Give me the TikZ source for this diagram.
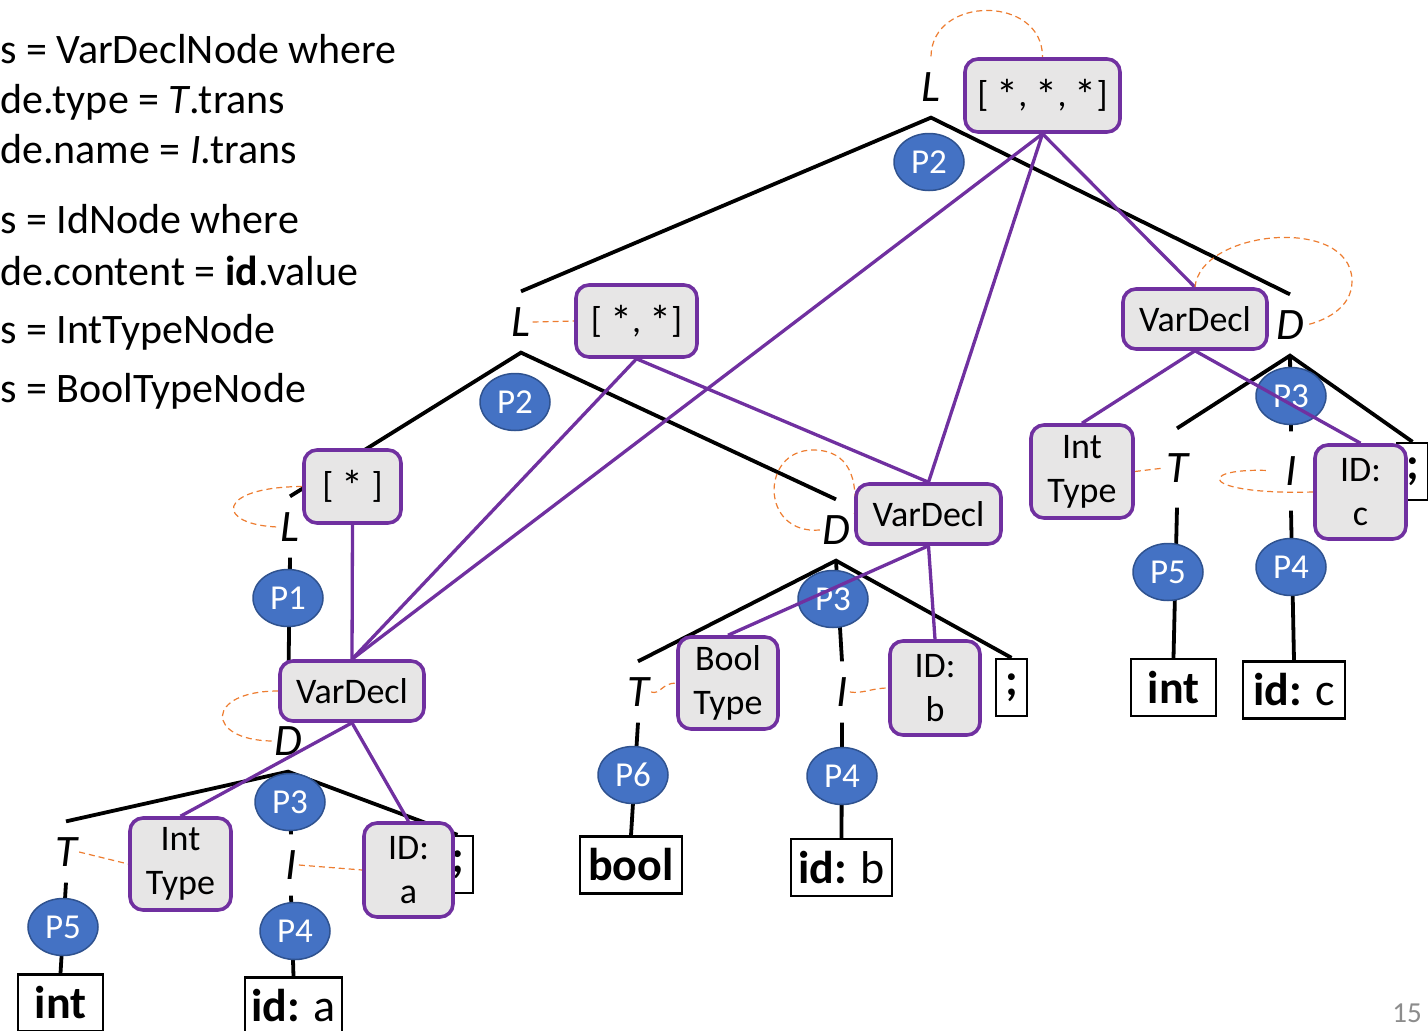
\documentclass[tikz,border=0pt]{standalone}
\usepackage{fontspec}
\setmainfont{Carlito}
\usetikzlibrary{shapes.geometric}
\definecolor{astpurple}{HTML}{7030A0}
\definecolor{astfill}{HTML}{E7E6E6}
\definecolor{prodblue}{HTML}{4472C4}
\definecolor{prodedge}{HTML}{2F528F}
\definecolor{linkorange}{HTML}{ED7D31}
\definecolor{pagegray}{HTML}{8C8C8C}
\pgfdeclarelayer{treelayer}
\pgfdeclarelayer{astlayer}
\pgfdeclarelayer{boxlayer}
\pgfsetlayers{treelayer,main,astlayer,boxlayer}
% a slightly larger list-element star
\newcommand\elemstar{\lower4pt\hbox{\fontsize{44pt}{44pt}\selectfont *}}

\begin{document}
\begin{tikzpicture}[x=1pt,y=-1pt,
  ast/.style={draw=astpurple, fill=astfill, line width=3.6pt, rounded corners=13pt,
    inner sep=0pt, align=center, font=\fontsize{36pt}{44pt}\selectfont},
  prod/.style={ellipse, draw=prodedge, fill=prodblue, line width=1.5pt, text=white,
    minimum width=70pt, minimum height=57pt, inner sep=0pt,
    font=\fontsize{35pt}{40pt}\selectfont},
  nt/.style={inner xsep=2pt, inner ysep=16pt, font=\fontsize{45pt}{50pt}\selectfont\itshape},
  term/.style={draw, line width=2.4pt, inner sep=0pt, minimum height=57pt,
    font=\fontsize{46pt}{52pt}\selectfont\bfseries},
  treeedge/.style={line width=3.8pt},
  astedge/.style={draw=astpurple, line width=3.3pt},
  link/.style={draw=linkorange, line width=1.2pt, dash pattern=on 6pt off 4pt},
  note/.style={anchor=base west, inner sep=0pt, font=\fontsize{42pt}{50pt}\selectfont},
]
\useasboundingbox (0,0) rectangle (1428,1031);

% semantic rules (partly cut at the left edge)
\node[note] (n1) at (0,63)  {s = VarDeclNode where};
\node[note] (n2) at (0,113) {de.type = \textit{T}.trans};
\node[note] (n3) at (0,163) {de.name = \textit{I}.trans};
\node[note] (n4) at (0,233) {s = IdNode where};
\node[note] (n5) at (0,285) {de.content = \textbf{id}.value};
\node[note] (n6) at (0,343) {s = IntTypeNode};
\node[note] (n7) at (0,402) {s = BoolTypeNode};
\node[anchor=base east, inner sep=0pt, text=pagegray,
      font=\fontsize{29pt}{34pt}\selectfont] (pg) at (1422,1022) {15};

% parse tree nonterminals
\node[nt] (L1) at (931,87)  {L};
\node[nt] (L2) at (521,322) {L};
\node[nt] (L3) at (290,527) {L};
\node[nt] (D1) at (288,741) {D};
\node[nt] (D2) at (836,530) {D};
\node[nt] (D3) at (1290,325) {D};
\node[nt] (T1) at (66,852)  {T};
\node[nt] (I1) at (291,865) {I};
\node[nt] (T2) at (638,692) {T};
\node[nt] (I2) at (842,692) {I};
\node[nt, inner ysep=25pt] (T3) at (1177,468) {T};
\node[nt, inner ysep=25pt] (I3) at (1291,471) {I};

% productions used
\node[prod] (p2a) at (929,162) {P2};
\node[prod] (p2b) at (515,402) {P2};
\node[prod] (p1)  at (288,598) {P1};
\node[prod] (p3a) at (290,802) {P3};
\node[prod] (p5a) at (63,927)  {P5};
\node[prod] (p4a) at (295,931) {P4};
\node[prod] (p3b) at (833,599) {P3};
\node[prod] (p6)  at (633,775) {P6};
\node[prod] (p4b) at (842,776) {P4};
\node[prod] (p3c) at (1291,396) {P3};
\node[prod] (p5b) at (1168,572) {P5};
\node[prod] (p4c) at (1291,567) {P4};

% tokens
\node[term, minimum width=85pt]  (int1) at (60.5,1003)   {int};
\node[term, minimum width=97pt]  (ida)  at (293.5,1006)  {id: \textmd{a}};
\node[term, minimum width=31pt]  (sc1)  at (457.5,864.5) {;};
\node[term, minimum width=102pt] (bool) at (631,865)     {bool};
\node[term, minimum width=101pt] (idb)  at (841.5,867.5) {id: \textmd{b}};
\node[term, minimum width=31pt]  (sc2)  at (1011.5,687.5) {;};
\node[term, minimum width=85pt]  (int2) at (1173.5,687.5) {int};
\node[term, minimum width=102pt] (idc)  at (1294,690)    {id: \textmd{c}};
\node[term, minimum width=31pt]  (sc3)  at (1412.5,471.5) {;};

% AST nodes
\begin{pgfonlayer}{boxlayer}
\node[ast, minimum width=155pt, minimum height=73pt] (a1) at (1042.5,95.5) {[ \elemstar, \elemstar, \elemstar]};
\node[ast, minimum width=121pt, minimum height=72pt] (a2) at (636.5,321)   {[ \elemstar, \elemstar]};
\node[ast, minimum width=97pt,  minimum height=73pt] (a3) at (352.5,486.5) {[ \elemstar\ ]};
\node[ast, minimum width=144pt, minimum height=60pt] (v1) at (352,691)   {VarDecl};
\node[ast, minimum width=145pt, minimum height=60pt] (v2) at (928.5,514) {VarDecl};
\node[ast, minimum width=144pt, minimum height=60pt] (v3) at (1195,319)  {VarDecl};
\node[ast, minimum width=101pt, minimum height=92pt] (it1)  at (180.5,864)  {Int\\Type};
\node[ast, minimum width=89pt,  minimum height=94pt] (ida2) at (408.5,870)  {ID:\\a};
\node[ast, minimum width=100pt, minimum height=92pt] (bt)   at (728,683)    {Bool\\Type};
\node[ast, minimum width=90pt,  minimum height=94pt] (idb2) at (935,688)    {ID:\\b};
\node[ast, minimum width=102pt, minimum height=93pt] (it2)  at (1082,471.5) {Int\\Type};
\node[ast, minimum width=91pt,  minimum height=94pt] (idc2) at (1360.5,492) {ID:\\c};
\end{pgfonlayer}

% parse tree edges
\begin{pgfonlayer}{treelayer}
\draw[treeedge] (L2.north) -- (L1.south) -- (D3.north);
\draw[treeedge] (L3.north) -- (L2.south) -- (D2.north);
\draw[treeedge] (L3.south) -- (D1.north);
\draw[treeedge] (T1.north) -- (D1.south) -- (sc1.north);
\draw[treeedge] (D1.south) -- (I1.north);
\draw[treeedge] (T1.south) -- (int1.north);
\draw[treeedge] (I1.south) -- (ida.north);
\draw[treeedge] (T2.north) -- (D2.south) -- (sc2.north);
\draw[treeedge] (D2.south) -- (I2.north);
\draw[treeedge] (T2.south) -- (bool.north);
\draw[treeedge] (I2.south) -- (idb.north);
\draw[treeedge] (T3.north) -- (D3.south) -- (sc3.north);
\draw[treeedge] (D3.south) -- (I3.north);
\draw[treeedge] (T3.south) -- (int2.north);
\draw[treeedge] (I3.south) -- (idc.north);
\end{pgfonlayer}

% AST edges and attribute links
\begin{pgfonlayer}{astlayer}
\draw[astedge] (a1.south) -- (v1.north);
\draw[astedge] (a1.south) -- (v2.north);
\draw[astedge] (a1.south) -- (v3.north);
\draw[astedge] (a2.south) -- (v1.north);
\draw[astedge] (a2.south) -- (v2.north);
\draw[astedge] (a3.south) -- (v1.north);
\draw[astedge] (v1.south) -- (it1.north);
\draw[astedge] (v1.south) -- (ida2.north);
\draw[astedge] (v2.south) -- (bt.north);
\draw[astedge] (v2.south) -- (idb2.north);
\draw[astedge] (v3.south) -- (it2.north);
\draw[astedge] (v3.south) -- (idc2.north);

\draw[link] (L1.north) .. controls (932,-5) and (1043,-5) .. (a1.north);
\draw[link] (L2.east) -- (a2.west);
\draw[link] (a3.west) .. controls (215,487) and (215,525) .. (L3.west);
\draw[link] (v1.west) .. controls (205,691) and (205,740) .. (D1.west);
\draw[link] (T1.east) -- (it1.west);
\draw[link] (I1.east) -- (ida2.west);
\draw[link] (D2.west) .. controls (760,535) and (760,450) .. (813,450)
            .. controls (850,450) and (858,480) .. (v2.west);
\draw[link] (T2.east) .. controls (660,695) and (662,683) .. (bt.west);
\draw[link] (I2.east) .. controls (862,694) and (872,688) .. (idb2.west);
\draw[link] (v3.north) .. controls (1200,230) and (1350,215) .. (1352,280)
            .. controls (1353,310) and (1320,322) .. (D3.east);
\draw[link] (it2.east) -- (T3.west);
\draw[link, shorten >=16pt] (idc2.west) .. controls (1200,495) and (1195,468) .. (I3.west);
\end{pgfonlayer}
\end{tikzpicture}
\end{document}
